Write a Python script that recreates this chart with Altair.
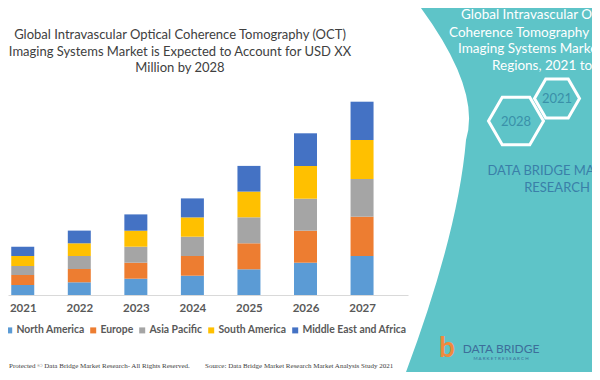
import altair as alt
import pandas as pd

# ---- data ----
years = [2021, 2022, 2023, 2024, 2025, 2026, 2027]
regions = ["North America", "Europe", "Asia Pacific", "South America", "Middle East and Africa"]
colors = ["#5B9BD5", "#ED7D31", "#A5A5A5", "#FFC000", "#4472C4"]
north_america = [10.0, 12.7, 16.3, 19.3, 25.7, 32.3, 39.0]
europe = [10.0, 13.3, 16.0, 19.7, 26.0, 32.0, 39.3]
asia_pacific = [9.0, 13.0, 16.0, 19.3, 26.0, 32.0, 37.7]
south_america = [10.0, 12.7, 16.0, 19.3, 25.7, 32.7, 39.0]
mea = [9.3, 12.7, 16.3, 19.0, 25.7, 32.7, 38.3]

title_lines = [
    "Global Intravascular Optical Coherence Tomography (OCT)",
    "Imaging Systems Market is Expected to Account for USD XX",
    "Million by 2028",
]
panel_lines = [
    "Global Intravascular Optical",
    "Coherence Tomography (OCT)",
    "Imaging Systems Market, By",
    "Regions, 2021 to 2028",
]
copyright_text = "Protected \u00a9 Data Bridge Market Research- All Rights Reserved."
source_text = "Source: Data Bridge Market Research Market Analysis Study 2021"

series = [north_america, europe, asia_pacific, south_america, mea]
rows = []
for ri, (reg, vals) in enumerate(zip(regions, series)):
    for y, v in zip(years, vals):
        rows.append({"year": y, "region": reg, "value": v, "order": ri})
df = pd.DataFrame(rows)

# plot origin on page = (8, 95); helpers convert page px to plot px
OX, OY = 8, 95
one = alt.Data(values=[{}])

def txt(text, px, py, **kw):
    return alt.Chart(one).mark_text(text=text, **kw).encode(
        x=alt.value(px - OX), y=alt.value(py - OY))

def sym(shape, px, py, size, **kw):
    return alt.Chart(one).mark_point(shape=shape, opacity=1, **kw).encode(
        x=alt.value(px - OX), y=alt.value(py - OY), size=alt.value(size))

TEAL = "#5EC4C8"
panel_path = ("M 415 0 Q 482 88 466 140 Q 458 235 403 380 "
              "L 620 380 L 620 0 Z")
panel = sym(panel_path, 0, 0, 4, filled=True, fill=TEAL, strokeWidth=0)

hexagon = "M -1 0 L -0.5 -0.866 L 0.5 -0.866 L 1 0 L 0.5 0.866 L -0.5 0.866 Z"
hex1 = sym(hexagon, 557, 98.5, 45 * 45, filled=False, stroke="white", strokeWidth=3)
hex2 = sym(hexagon, 516, 121, 55 * 55, filled=False, stroke="white", strokeWidth=3)

bars = alt.Chart(df).mark_bar(size=23).encode(
    x=alt.X("year:Q",
            scale=alt.Scale(domain=[2020.8276, 2027.7241], nice=False, zero=False),
            axis=alt.Axis(values=years, format="d", title=None, grid=False,
                          ticks=False, domainColor="#D9D9D9", labelPadding=7,
                          labelFont="Lato", labelFontSize=11.5, labelFontWeight="bold",
                          labelColor="#595959")),
    y=alt.Y("value:Q", stack="zero", scale=alt.Scale(domain=[0, 200], nice=False),
            axis=None),
    color=alt.Color("region:N", sort=regions,
                    scale=alt.Scale(domain=regions, range=colors),
                    legend=alt.Legend(title=None, orient="none", direction="horizontal",
                                      legendX=-4, legendY=230, symbolType="square",
                                      symbolSize=36, symbolStrokeWidth=0,
                                      labelFont="Lato", labelFontSize=10.4,
                                      labelFontWeight="bold", labelColor="#595959",
                                      columnPadding=3, labelOffset=2)),
    order=alt.Order("order:Q", sort="ascending"),
)

title_kw = dict(font="Lato", fontSize=13, color="#404040", align="center", baseline="middle")
titles = [txt(t, 180, y, **title_kw) for t, y in zip(title_lines, [35, 52, 68])]

panel_kw = dict(font="Lato", fontSize=13.5, color="white", align="left", baseline="middle")
panel_texts = [txt(t, x, y, **panel_kw)
               for t, x, y in zip(panel_lines, [461, 449, 458, 492], [15, 33, 49, 66])]

hex_kw = dict(font="Lato", fontSize=13, color="#3A90A8", align="center", baseline="middle")
dbmr_kw = dict(font="Lato", fontSize=13, color="#3A7FA8", align="center", baseline="middle")

deco_texts = [
    txt("2021", 557, 99, **hex_kw),
    txt("2028", 516, 122, **hex_kw),
    txt("DATA BRIDGE MARKET", 557, 171, **dbmr_kw),
    txt("RESEARCH", 557, 188, **dbmr_kw),
    txt("DATA BRIDGE", 501, 349, font="Lato", fontSize=12, color="#3D6E9A",
        align="center", baseline="middle"),
    txt("M A R K E T   R E S E A R C H", 501, 359, font="Lato", fontSize=4.5,
        color="#3D6E9A", align="center", baseline="middle"),
    txt("b", 447, 349, font="Lato", fontSize=28, fontWeight="bold", color="#F08A3C",
        align="center", baseline="middle"),
]
src_kw = dict(font="Liberation Serif", fontSize=7.0, color="#404040", align="left",
              baseline="middle")
sources = [txt(copyright_text, 9, 366, **src_kw), txt(source_text, 205, 366, **src_kw)]

chart = alt.layer(panel, hex1, hex2, bars, *titles, *panel_texts, *deco_texts, *sources).properties(
    width=400, height=200,
    padding={"left": 0, "top": 87, "right": 184, "bottom": 77},
    autosize=alt.AutoSizeParams(type="none"),
    background="white",
).configure_view(stroke=None)

chart.save("out.html", embed_options={"renderer": "svg", "actions": False})
